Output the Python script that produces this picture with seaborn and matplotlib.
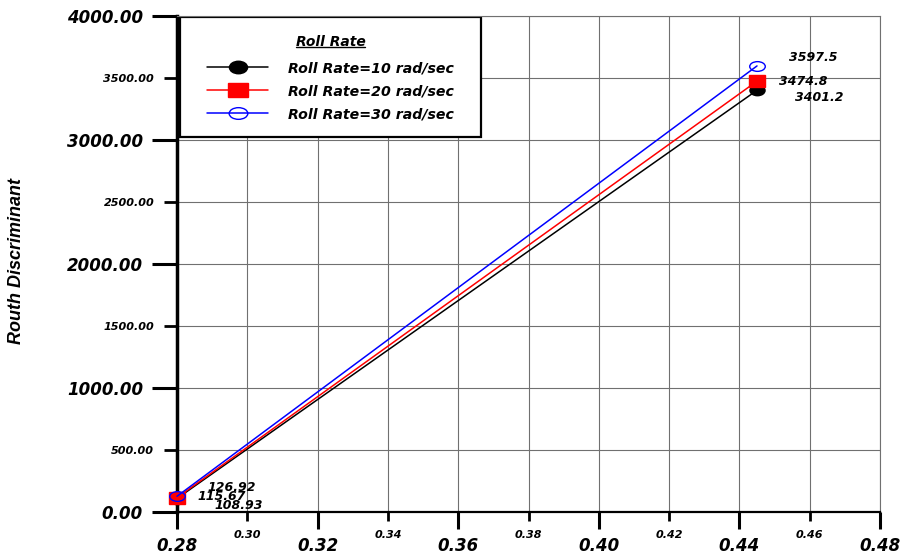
import matplotlib
matplotlib.use('Agg')
import matplotlib.pyplot as plt
import seaborn as sns
from matplotlib.markers import MarkerStyle
from matplotlib.transforms import Affine2D, IdentityTransform
from matplotlib.patches import Rectangle
from matplotlib.lines import Line2D

# ---- data ----
ratio = [0.28, 0.445]
rr10 = [108.93, 3401.2]
rr20 = [115.67, 3474.8]
rr30 = [126.92, 3597.5]
series_labels = ['Roll Rate=10 rad/sec', 'Roll Rate=20 rad/sec', 'Roll Rate=30 rad/sec']
legend_title = 'Roll Rate'
y_title = 'Routh Discriminant'
x_major = [0.28, 0.32, 0.36, 0.40, 0.44, 0.48]
x_minor = [0.30, 0.34, 0.38, 0.42, 0.46]
y_major = [0, 1000, 2000, 3000, 4000]
y_minor = [500, 1500, 2500, 3500]

sns.set_style('white')
plt.rcParams['font.family'] = ['DejaVu Sans']
plt.rcParams['font.style'] = 'oblique'
plt.rcParams['font.weight'] = 'bold'
plt.rcParams['text.color'] = 'black'
plt.rcParams['axes.labelcolor'] = 'black'
plt.rcParams['xtick.color'] = 'black'
plt.rcParams['ytick.color'] = 'black'
plt.rcParams['xtick.labelcolor'] = 'black'
plt.rcParams['ytick.labelcolor'] = 'black'

fig = plt.figure(figsize=(9.04, 5.56), dpi=100)
ax = fig.add_axes([0.1958, 0.0791, 0.7777, 0.8921])

m_circ = MarkerStyle('o', transform=Affine2D().scale(1.45, 1.0))
m_sq = MarkerStyle('s', transform=Affine2D().scale(1.4, 1.0))
m_open = MarkerStyle('o', transform=Affine2D().scale(1.6, 1.0))

handles = []
sns.lineplot(x=ratio, y=rr10, ax=ax, color='black', marker=m_circ, markersize=7.5,
             markerfacecolor='black', markeredgecolor='black', markeredgewidth=1,
             lw=1.1, legend=False, sort=False, clip_on=False, zorder=3)
handles.append(ax.lines[-1])
sns.lineplot(x=ratio, y=rr20, ax=ax, color='red', marker=m_sq, markersize=8.5,
             markerfacecolor='red', markeredgecolor='red', markeredgewidth=1,
             lw=1.1, legend=False, sort=False, clip_on=False, zorder=3)
handles.append(ax.lines[-1])
sns.lineplot(x=ratio, y=rr30, ax=ax, color='blue', marker=m_open, markersize=7,
             markerfacecolor='none', markeredgecolor='blue', markeredgewidth=1,
             lw=1.1, legend=False, sort=False, clip_on=False, zorder=3)
handles.append(ax.lines[-1])

# annotations
ann = [
    (ratio[1], rr30[1], (23, 5.8)),
    (ratio[1], rr20[1], (16, 0)),
    (ratio[1], rr10[1], (27, -5)),
    (ratio[0], rr30[0], (22, 6)),
    (ratio[0], rr20[0], (14.4, 1.2)),
    (ratio[0], rr10[0], (27, -4.7)),
]
for x, y, off in ann:
    ax.annotate(str(y), xy=(x, y), xytext=off, textcoords='offset points',
                ha='left', va='center', fontsize=9, color='black', zorder=6)

ax.set_xlim(0.28, 0.48)
ax.set_ylim(0, 4000)
ax.set_xticks(x_major)
ax.set_xticklabels([f'{v:.2f}' for v in x_major])
ax.set_xticks(x_minor, minor=True)
ax.set_xticklabels([f'{v:.2f}' for v in x_minor], minor=True)
ax.set_yticks(y_major)
ax.set_yticklabels([f'{v:.2f}' for v in y_major])
ax.set_yticks(y_minor, minor=True)
ax.set_yticklabels([f'{v:.2f}' for v in y_minor], minor=True)

ax.tick_params(axis='x', which='major', direction='out', length=12, width=2.2,
               pad=6, labelsize=12, color='black', bottom=True)
ax.tick_params(axis='x', which='minor', direction='out', length=6.5, width=2,
               pad=6.5, labelsize=8, color='black', bottom=True)
ax.tick_params(axis='y', which='major', direction='out', length=18, width=2.2,
               pad=6.5, labelsize=12, color='black', left=True)
ax.tick_params(axis='y', which='minor', direction='out', length=9.4, width=2,
               pad=7, labelsize=8, color='black', left=True)

ax.grid(True, which='both', color='#707070', lw=0.8)
ax.set_axisbelow(True)
for s in ['top', 'right']:
    ax.spines[s].set_color('#707070')
    ax.spines[s].set_linewidth(0.8)
ax.spines['left'].set_color('black')
ax.spines['left'].set_linewidth(2.5)
ax.spines['bottom'].set_color('black')
ax.spines['bottom'].set_linewidth(1.6)

fig.text(17 / 904, 1 - 261 / 556, y_title, rotation=90, ha='center', va='center',
         fontsize=13, fontweight='bold', fontstyle='italic', family=['Liberation Sans'],
         color='black')

# legend box
ax.add_patch(Rectangle((0.004, 0.756), 0.428, 0.242, transform=ax.transAxes,
                       facecolor='white', edgecolor='black', lw=1.6, zorder=2.5))
leg = ax.legend(handles, series_labels, loc='upper left', bbox_to_anchor=(0.033, 0.975),
                borderpad=0, frameon=False, handlelength=4.3, handletextpad=1.4,
                labelspacing=0.62, fontsize=10.2, markerscale=1.2, title=legend_title,
                title_fontproperties={'size': 10, 'weight': 'bold', 'style': 'oblique'})
leg._legend_box.sep = 8.6
leg.set_zorder(5)

fig.canvas.draw()
bb = leg.get_title().get_window_extent(fig.canvas.get_renderer())
fig.add_artist(Line2D([bb.x0, bb.x1], [bb.y0 + 2, bb.y0 + 2], transform=IdentityTransform(),
                      color='black', lw=1))

fig.savefig('out.png', dpi=100)
